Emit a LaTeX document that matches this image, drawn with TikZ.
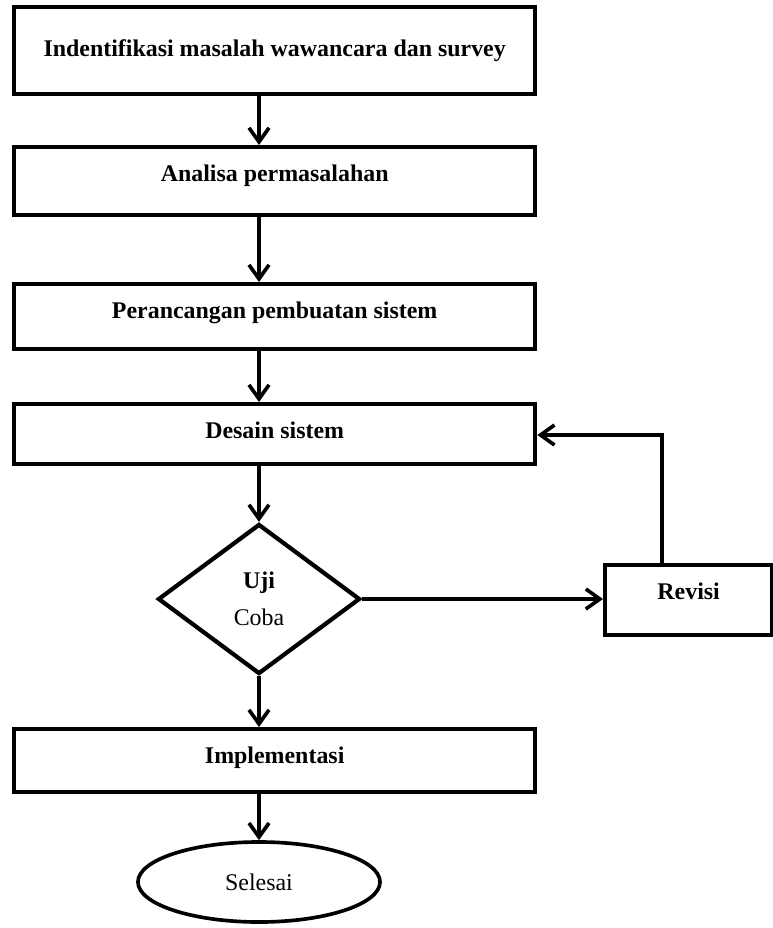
\documentclass[tikz,border=0pt]{standalone}
\usepackage{fontspec}
\setmainfont{Liberation Serif}
\usepackage{tikz}
\usetikzlibrary{arrows.meta,shapes.geometric,positioning,calc}

\begin{document}
\begin{tikzpicture}[
    x=0.025cm, y=-0.025cm,
    % 方框样式
    box style/.style={
        rectangle,                 % 方形节点
        draw,                      % 绘制边框
        line width=3pt,
        fill=white,
        minimum width=13.025cm,    % 最小宽度
        inner sep=0pt,
        text height=0.85cm,        % 文字靠上
        anchor=north west,
        font=\fontsize{17}{20}\selectfont\bfseries
    },
    % 判断节点样式
    decision style/.style={
        diamond,                   % 菱形节点
        draw,
        line width=3pt,
        fill=white,
        minimum width=5.05cm,
        minimum height=3.75cm,
        inner sep=0pt,
        align=center,
        font=\fontsize{17}{26}\selectfont
    },
    % 结束节点样式
    end style/.style={
        ellipse,                   % 椭圆节点
        draw,
        line width=2.6pt,
        fill=white,
        minimum width=6.05cm,
        minimum height=2cm,
        font=\fontsize{17}{20}\selectfont
    },
    % 箭头样式
    arrow style/.style={
        draw,
        line width=2.6pt,
        -{Straight Barb[length=0.35cm,width=0.5cm]}
    }
]

\useasboundingbox (0,0) rectangle (773,928);

% 节点
\node[box style, text height=1.225cm, text depth=0.95cm] (ident) at (12,5) {Indentifikasi masalah wawancara dan survey};
\node[box style, text depth=0.85cm] (analisa) at (12,145) {Analisa permasalahan};
\node[box style, text depth=0.775cm] (rancang) at (12,282) {Perancangan pembuatan sistem};
\node[box style, text depth=0.65cm] (desain) at (12,402) {Desain sistem};
\node[decision style] (uji) at (259,599) {\textbf{Uji}\\Coba};
\node[box style, minimum width=4.175cm, text depth=0.9cm] (revisi) at (603,563) {Revisi};
\node[box style, text depth=0.725cm] (impl) at (12,727) {Implementasi};
\node[end style] (selesai) at (259,882) {Selesai};

% 连线
\draw[arrow style] (ident.south -| uji) -- (analisa.north -| uji);
\draw[arrow style] (analisa.south -| uji) -- (rancang.north -| uji);
\draw[arrow style] (rancang.south -| uji) -- (desain.north -| uji);
\draw[arrow style] (desain.south -| uji) -- (uji.north);
\draw[arrow style] (uji.south) -- (impl.north -| uji);
\draw[arrow style] (impl.south -| uji) -- (selesai.north);
\draw[arrow style] (uji.east) -- (uji.east -| revisi.west);

% 返回 Desain sistem
\coordinate (balik) at (662,435);
\draw[arrow style] (revisi.north -| balik) -- (balik) -- (balik -| desain.east);

\end{tikzpicture}
\end{document}
